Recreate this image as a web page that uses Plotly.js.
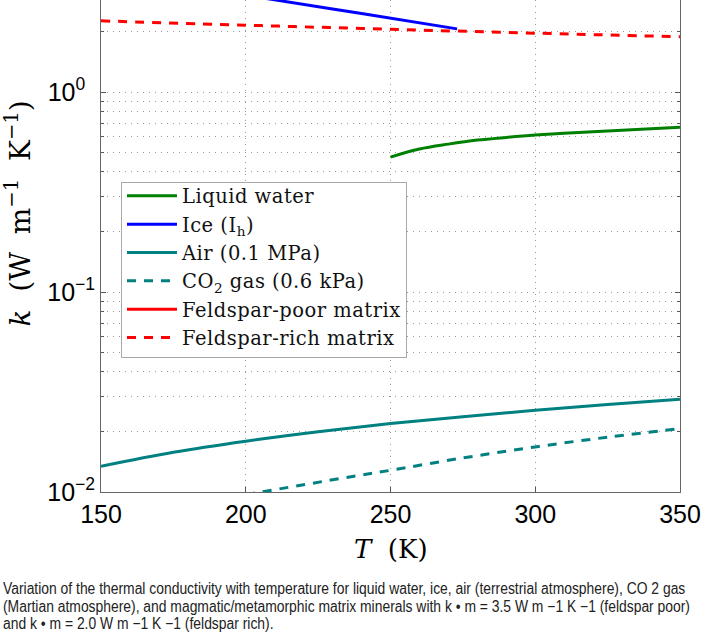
<!DOCTYPE html>
<html>
<head>
<meta charset="utf-8">
<script src="https://cdn.plot.ly/plotly-3.0.1.min.js"></script>
<style>
  html, body { margin: 0; padding: 0; background: #fff; }
  #wrap { position: relative; width: 710px; height: 637px; overflow: hidden; }
  #chart { position: absolute; left: 0; top: 0; width: 710px; height: 637px; }
  #caption { position: absolute; left: 3px; top: 580px; font-family: "Liberation Sans", Arial, sans-serif;
             font-size: 16px; line-height: 17.5px; color: #222; }
  #caption div { white-space: nowrap; transform-origin: 0 0; }
  .legendtext { letter-spacing: 0.5px; }
</style>
</head>
<body>
<div id="wrap">
  <div id="chart"></div>
  <div id="caption">
    <div class="cl">Variation of the thermal conductivity with temperature for liquid water, ice, air (terrestrial atmosphere), CO 2 gas</div>
    <div class="cl">(Martian atmosphere), and magmatic/metamorphic matrix minerals with k • m = 3.5 W m −1 K −1 (feldspar poor)</div>
    <div class="cl">and k • m = 2.0 W m −1 K −1 (feldspar rich).</div>
  </div>
</div>
<script>
// ---- data ----
const seriesNames = ["Liquid water", "Ice (I<sub>h</sub>)", "Air (0.1 MPa)", "CO<sub>2</sub> gas (0.6 kPa)",
                     "Feldspar-poor matrix", "Feldspar-rich matrix"];

const T_water = [250, 260, 270, 280, 290, 300, 315, 330, 350];
const k_water = [0.473, 0.519, 0.549, 0.575, 0.593, 0.609, 0.628, 0.645, 0.666];

const T_ice = [200, 210, 220, 230, 240, 250, 260, 273];
const k_ice = [3.05, 2.90, 2.75, 2.60, 2.47, 2.34, 2.22, 2.07];

const T_air = [150, 175, 200, 225, 250, 275, 300, 325, 350];
const k_air = [0.01345, 0.0158, 0.01794, 0.0200, 0.02198, 0.0238, 0.02564, 0.0274, 0.0291];

const T_co2 = [200, 239, 250, 275, 300, 325, 350];
const k_co2 = [0.0097, 0.0121, 0.01284, 0.0148, 0.0168, 0.0188, 0.02075];

const T_fpoor = [150, 200, 250, 300, 350];
const k_fpoor = [3.97, 3.78, 3.61, 3.45, 3.31];

const T_frich = [150, 200, 250, 300, 350];
const k_frich = [2.27, 2.16, 2.06, 1.97, 1.89];

const xTicks = [150, 200, 250, 300, 350];
const yMajor = [0.01, 0.1, 1];
const yMajorText = ["10<sup>−2</sup>", "10<sup>−1</sup>", "10<sup>0\u2007</sup>"];
const yMinor = [0.02, 0.03, 0.04, 0.05, 0.06, 0.07, 0.08, 0.09,
                0.2, 0.3, 0.4, 0.5, 0.6, 0.7, 0.8, 0.9, 2, 3];

// ---- traces ----
const W = 3;
const traces = [
  {x: T_water, y: k_water, name: seriesNames[0], mode: "lines", line: {color: "#008000", width: W, shape: "spline"}},
  {x: T_ice, y: k_ice, name: seriesNames[1], mode: "lines", line: {color: "#0000ff", width: W}},
  {x: T_air, y: k_air, name: seriesNames[2], mode: "lines", line: {color: "#008080", width: W, shape: "spline"}},
  {x: T_co2, y: k_co2, name: seriesNames[3], mode: "lines", line: {color: "#008080", width: W, dash: "9px,8px", shape: "spline"}},
  {x: T_fpoor, y: k_fpoor, name: seriesNames[4], mode: "lines", line: {color: "#ff0000", width: W, shape: "spline"}},
  {x: T_frich, y: k_frich, name: seriesNames[5], mode: "lines", line: {color: "#ff0000", width: W, dash: "9px,8px", shape: "spline"}}
];

const gridDot = "1px,5px";
const NB = "\u00a0";
const layout = {
  width: 710, height: 637,
  margin: {l: 101, r: 30, t: 0, b: 145},
  paper_bgcolor: "rgba(0,0,0,0)",
  plot_bgcolor: "#fff",
  showlegend: true,
  xaxis: {
    type: "linear", range: [150, 350],
    tickmode: "array", tickvals: xTicks, ticktext: xTicks.map(String),
    ticks: "inside", ticklen: 5, tickcolor: "#555",
    showline: true, linecolor: "#666", linewidth: 1, mirror: false,
    showgrid: true, gridcolor: "#999", griddash: gridDot, gridwidth: 1,
    zeroline: false,
    tickfont: {family: "Liberation Sans, Arial, sans-serif", size: 25, color: "#000"}
  },
  yaxis: {
    type: "log", range: [-2, 0.4603],
    tickmode: "array", tickvals: yMajor, ticktext: yMajorText,
    ticks: "inside", ticklen: 5, tickcolor: "#555",
    showline: true, linecolor: "#666", linewidth: 1, mirror: "ticks",
    showgrid: true, gridcolor: "#999", griddash: gridDot, gridwidth: 1,
    zeroline: false,
    minor: {tickvals: yMinor, ticks: "inside", ticklen: 3, tickcolor: "#555",
            showgrid: true, gridcolor: "#999", griddash: gridDot, gridwidth: 1},
    tickfont: {family: "Liberation Sans, Arial, sans-serif", size: 25, color: "#000"}
  },
  legend: {
    x: 0.0345, y: 0.643, xanchor: "left", yanchor: "top",
    bgcolor: "#fff", bordercolor: "#a8a8a8", borderwidth: 1,
    font: {family: "DejaVu Serif, serif", size: 19.5, color: "#111"},
    itemwidth: 50, traceorder: "normal"
  },
  annotations: [
    {text: "<i>k</i>" + NB + " (W" + NB + " m<sup>−1</sup>" + NB + " K<sup>−1</sup>)", textangle: -90,
     xref: "paper", yref: "paper", x: -0.1416, y: 0.566, xanchor: "center", yanchor: "middle",
     showarrow: false, font: {family: "DejaVu Serif, serif", size: 28, color: "#000"}},
    {text: "<i>T</i>  (K)",
     xref: "paper", yref: "paper", x: 0.5, y: -0.116, xanchor: "center", yanchor: "middle",
     showarrow: false, font: {family: "DejaVu Serif, serif", size: 26, color: "#000"}}
  ]
};

Plotly.newPlot("chart", traces, layout, {displayModeBar: false, staticPlot: true}).then(function () {
  const lines = document.querySelectorAll("#caption .cl");
  const w0 = lines[0].getBoundingClientRect().width;
  const s = 687 / w0;
  lines.forEach(function (el) { el.style.transform = "scaleX(" + s + ")"; });
  // trim the legend frame's extra top padding so it sits like the reference box
  const bg = document.querySelector(".legend rect.bg");
  if (bg) {
    const y = parseFloat(bg.getAttribute("y") || "0");
    const h = parseFloat(bg.getAttribute("height") || "0");
    if (h > 20) {
      bg.setAttribute("y", String(y + 6));
      bg.setAttribute("height", String(h - 7));
    }
  }
});
</script>
</body>
</html>
